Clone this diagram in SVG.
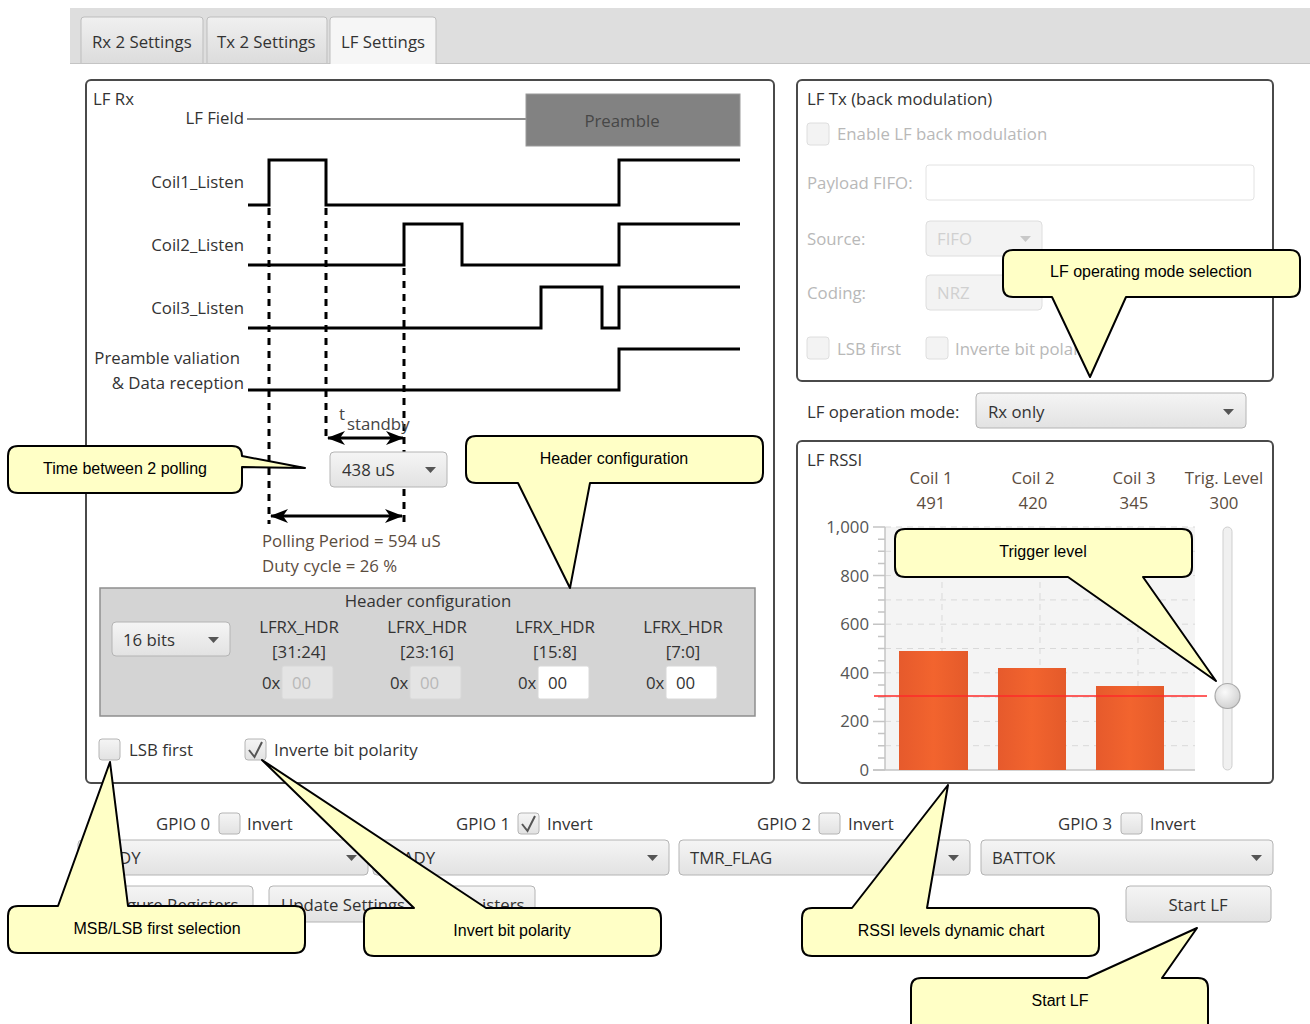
<svg xmlns="http://www.w3.org/2000/svg" width="1310" height="1024" viewBox="0 0 1310 1024">
  <defs>
    <style>
      .ui { font-family: "Open Sans", "Noto Sans", sans-serif; font-size: 16.8px; fill: #333; }
      .dis { fill: #b8b8b8; }
      .brown { fill: #5b4c3e; }
      .axis { font-family: "Open Sans", "Noto Sans", sans-serif; font-size: 16.8px; fill: #555; }
      .co { font-family: "Liberation Sans", Arial, sans-serif; font-size: 16px; fill: #000; }
      .callout { fill: #ffffc6; stroke: #000; stroke-width: 2; stroke-linejoin: round; }
      .panel { fill: #fff; stroke: #4a4a4a; stroke-width: 2; }
      .wave { fill: none; stroke: #000; stroke-width: 3; stroke-linejoin: miter; }
      .dash { fill: none; stroke: #000; stroke-width: 3; stroke-dasharray: 7 6; }
      .dd { fill: url(#btn); stroke: #b4b4b4; stroke-width: 1; }
      .dd-dis { fill: #f3f3f3; stroke: #dedede; stroke-width: 1; }
      .chk { fill: url(#btn); stroke: #b4b4b4; stroke-width: 1; }
      .chk-dis { fill: #f3f3f3; stroke: #dedede; stroke-width: 1; }
      .tri { fill: #555; }
      .tri-dis { fill: #c8c8c8; }
      .field { fill: #fff; stroke: #d8d8d8; stroke-width: 1; }
      .field-dis { fill: #e4e4e4; stroke: #d8d8d8; stroke-width: 1; }
      .grid { stroke: #d9d9d9; stroke-width: 1; stroke-dasharray: 6 5; fill: none; }
      .tick { stroke: #c4c4c4; stroke-width: 1.5; }
    </style>
    <linearGradient id="btn" x1="0" y1="0" x2="0" y2="1">
      <stop offset="0" stop-color="#f5f5f5"/>
      <stop offset="1" stop-color="#e2e2e2"/>
    </linearGradient>
    <linearGradient id="tab" x1="0" y1="0" x2="0" y2="1">
      <stop offset="0" stop-color="#f0f0f0"/>
      <stop offset="1" stop-color="#dcdcdc"/>
    </linearGradient>
    <linearGradient id="bar" x1="0" y1="0" x2="1" y2="0">
      <stop offset="0" stop-color="#e65a2c"/>
      <stop offset="0.5" stop-color="#f2642e"/>
      <stop offset="1" stop-color="#e45a2a"/>
    </linearGradient>
    <radialGradient id="thumb" cx="0.4" cy="0.35" r="0.7">
      <stop offset="0" stop-color="#fafafa"/>
      <stop offset="1" stop-color="#cfcfcf"/>
    </radialGradient>
    <marker id="ah" viewBox="0 0 18 14" refX="17" refY="7" markerWidth="18" markerHeight="14" markerUnits="userSpaceOnUse" orient="auto-start-reverse">
      <path d="M0,0 L18,7 L0,14 L5,7 Z" fill="#000"/>
    </marker>
  </defs>

  <rect width="1310" height="1024" fill="#fff"/>

  <!-- tab strip -->
  <g id="tabs">
    <rect x="70" y="8" width="1240" height="56" fill="#dedede"/>
    <line x1="70" y1="63.5" x2="1310" y2="63.5" stroke="#c4c4c4"/>
    <path d="M81,63 V20 Q81,17 84,17 H200 Q203,17 203,20 V63" fill="url(#tab)" stroke="#bdbdbd"/>
    <path d="M207,63 V20 Q207,17 210,17 H324 Q327,17 327,20 V63" fill="url(#tab)" stroke="#bdbdbd"/>
    <path d="M330,64 V20 Q330,17 333,17 H433 Q436,17 436,20 V64" fill="#f6f6f6" stroke="#bdbdbd"/>
    <text class="ui" x="92" y="48">Rx 2 Settings</text>
    <text class="ui" x="217" y="48">Tx 2 Settings</text>
    <text class="ui" x="341" y="48">LF Settings</text>
  </g>

  <!-- LF Rx panel -->
  <g id="lf-rx">
    <rect class="panel" x="86" y="80" width="688" height="703" rx="5"/>
    <text class="ui" x="93" y="105">LF Rx</text>

    <text class="ui" x="244" y="124" text-anchor="end">LF Field</text>
    <line x1="247" y1="119" x2="527" y2="119" stroke="#8c8c8c" stroke-width="2"/>
    <rect x="526" y="94" width="214" height="52" fill="#828282" stroke="#9a9a9a"/>
    <text class="ui" x="622" y="127" text-anchor="middle" style="fill:#474747">Preamble</text>

    <text class="ui" x="244" y="188" text-anchor="end">Coil1_Listen</text>
    <text class="ui" x="244" y="251" text-anchor="end">Coil2_Listen</text>
    <text class="ui" x="244" y="314" text-anchor="end">Coil3_Listen</text>
    <text class="ui" x="240" y="364" text-anchor="end">Preamble valiation</text>
    <text class="ui" x="244" y="389" text-anchor="end">&amp; Data reception</text>

    <path class="wave" d="M248,205 H269 V160 H326 V205 H619 V160 H740"/>
    <path class="wave" d="M248,265 H404 V224 H462 V265 H619 V224 H740"/>
    <path class="wave" d="M248,328 H541 V287 H602 V328 H619 V287 H740"/>
    <path class="wave" d="M248,390 H619 V349 H740"/>

    <line class="dash" x1="269" y1="208" x2="269" y2="524"/>
    <line class="dash" x1="326" y1="208" x2="326" y2="442"/>
    <line class="dash" x1="404" y1="268" x2="404" y2="524"/>

    <text class="ui" x="339" y="420" style="fill:#444">t</text>
    <text class="ui" x="347" y="430" style="fill:#444">standby</text>
    <line x1="328" y1="438" x2="403" y2="438" stroke="#000" stroke-width="3" marker-start="url(#ah)" marker-end="url(#ah)"/>

    <rect class="dd" x="330" y="452" width="117" height="35" rx="4"/>
    <text class="ui" x="342" y="476">438 uS</text>
    <path class="tri" d="M425,467 H436 L430.5,473 Z"/>

    <line x1="271" y1="516" x2="402" y2="516" stroke="#000" stroke-width="3" marker-start="url(#ah)" marker-end="url(#ah)"/>
    <text class="ui brown" x="262" y="547">Polling Period = 594 uS</text>
    <text class="ui brown" x="262" y="572">Duty cycle = 26 %</text>

    <!-- header configuration block -->
    <rect x="100" y="588" width="655" height="128" fill="#d4d4d4" stroke="#8e8e8e" stroke-width="1.5"/>
    <text class="ui" x="428" y="607" text-anchor="middle">Header configuration</text>
    <rect class="dd" x="112" y="622" width="118" height="34" rx="4"/>
    <text class="ui" x="123" y="646">16 bits</text>
    <path class="tri" d="M208,637 H219 L213.5,643 Z"/>

    <text class="ui" x="299" y="633" text-anchor="middle">LFRX_HDR</text>
    <text class="ui" x="427" y="633" text-anchor="middle">LFRX_HDR</text>
    <text class="ui" x="555" y="633" text-anchor="middle">LFRX_HDR</text>
    <text class="ui" x="683" y="633" text-anchor="middle">LFRX_HDR</text>
    <text class="ui" x="299" y="658" text-anchor="middle">[31:24]</text>
    <text class="ui" x="427" y="658" text-anchor="middle">[23:16]</text>
    <text class="ui" x="555" y="658" text-anchor="middle">[15:8]</text>
    <text class="ui" x="683" y="658" text-anchor="middle">[7:0]</text>

    <text class="ui" x="262" y="689">0x</text>
    <rect class="field-dis" x="282" y="666" width="51" height="33" rx="2"/>
    <text class="ui dis" x="292" y="689">00</text>
    <text class="ui" x="390" y="689">0x</text>
    <rect class="field-dis" x="410" y="666" width="51" height="33" rx="2"/>
    <text class="ui dis" x="420" y="689">00</text>
    <text class="ui" x="518" y="689">0x</text>
    <rect class="field" x="538" y="666" width="51" height="33" rx="2"/>
    <text class="ui" x="548" y="689">00</text>
    <text class="ui" x="646" y="689">0x</text>
    <rect class="field" x="666" y="666" width="51" height="33" rx="2"/>
    <text class="ui" x="676" y="689">00</text>

    <rect class="chk" x="99" y="739" width="21" height="21" rx="3"/>
    <text class="ui" x="129" y="756">LSB first</text>
    <rect class="chk" x="245" y="739" width="21" height="21" rx="3"/>
    <path d="M249,750 L254.5,757 L262,742" fill="none" stroke="#555" stroke-width="2"/>
    <text class="ui" x="274" y="756">Inverte bit polarity</text>
  </g>

  <!-- LF Tx panel -->
  <g id="lf-tx">
    <rect class="panel" x="797" y="80" width="476" height="301" rx="5"/>
    <text class="ui" x="807" y="105">LF Tx (back modulation)</text>
    <rect class="chk-dis" x="807" y="123" width="22" height="22" rx="3"/>
    <text class="ui dis" x="837" y="140">Enable LF back modulation</text>
    <text class="ui dis" x="807" y="189">Payload FIFO:</text>
    <rect class="field" x="926" y="165" width="328" height="35" rx="3" style="stroke:#e2e2e2"/>
    <text class="ui dis" x="807" y="245">Source:</text>
    <rect class="dd-dis" x="926" y="221" width="116" height="35" rx="4"/>
    <text class="ui dis" x="937" y="245" style="fill:#d0d0d0">FIFO</text>
    <path class="tri-dis" d="M1020,236 H1031 L1025.5,242 Z"/>
    <text class="ui dis" x="807" y="299">Coding:</text>
    <rect class="dd-dis" x="926" y="275" width="116" height="35" rx="4"/>
    <text class="ui dis" x="937" y="299" style="fill:#d0d0d0">NRZ</text>
    <rect class="chk-dis" x="807" y="337" width="22" height="22" rx="3"/>
    <text class="ui dis" x="837" y="355">LSB first</text>
    <rect class="chk-dis" x="926" y="337" width="22" height="22" rx="3"/>
    <text class="ui dis" x="955" y="355">Inverte bit polarity</text>
  </g>

  <!-- operation mode -->
  <g id="op-mode">
    <text class="ui" x="807" y="418">LF operation mode:</text>
    <rect class="dd" x="976" y="393" width="270" height="35" rx="4"/>
    <text class="ui" x="988" y="418">Rx only</text>
    <path class="tri" d="M1223,409 H1234 L1228.5,415 Z"/>
  </g>

  <!-- LF RSSI panel -->
  <g id="lf-rssi">
    <rect class="panel" x="797" y="441" width="476" height="342" rx="5"/>
    <text class="ui" x="807" y="466">LF RSSI</text>
    <text class="ui brown" x="931" y="484" text-anchor="middle">Coil 1</text>
    <text class="ui brown" x="931" y="509" text-anchor="middle">491</text>
    <text class="ui brown" x="1033" y="484" text-anchor="middle">Coil 2</text>
    <text class="ui brown" x="1033" y="509" text-anchor="middle">420</text>
    <text class="ui brown" x="1134" y="484" text-anchor="middle">Coil 3</text>
    <text class="ui brown" x="1134" y="509" text-anchor="middle">345</text>
    <text class="ui brown" x="1224" y="484" text-anchor="middle">Trig. Level</text>
    <text class="ui brown" x="1224" y="509" text-anchor="middle">300</text>

    <!-- plot area -->
    <rect x="885" y="527" width="310" height="243" fill="#f4f4f4"/>
    <path class="grid" d="M885,551.3 H1195 M885,575.6 H1195 M885,599.9 H1195 M885,624.2 H1195 M885,648.5 H1195 M885,672.8 H1195 M885,697.1 H1195 M885,721.4 H1195 M885,745.7 H1195 M885,527 H1195"/>
    <path class="grid" d="M942,527 V770 M1040,527 V770 M1138,527 V770"/>

    <path class="tick" d="M873,527 H885 M873,575.6 H885 M873,624.2 H885 M873,672.8 H885 M873,721.4 H885 M873,770 H885"/>
    <path class="tick" d="M878,539.2 H885 M878,551.3 H885 M878,563.5 H885 M878,587.8 H885 M878,599.9 H885 M878,612.1 H885 M878,636.4 H885 M878,648.5 H885 M878,660.7 H885 M878,685 H885 M878,697.1 H885 M878,709.3 H885 M878,733.6 H885 M878,745.7 H885 M878,757.9 H885"/>
    <line x1="885" y1="527" x2="885" y2="770" stroke="#c4c4c4" stroke-width="1.5"/>
    <line x1="873" y1="770" x2="1195" y2="770" stroke="#c4c4c4" stroke-width="1.5"/>

    <text class="axis" x="869" y="533" text-anchor="end">1,000</text>
    <text class="axis" x="869" y="582" text-anchor="end">800</text>
    <text class="axis" x="869" y="630" text-anchor="end">600</text>
    <text class="axis" x="869" y="679" text-anchor="end">400</text>
    <text class="axis" x="869" y="727" text-anchor="end">200</text>
    <text class="axis" x="869" y="776" text-anchor="end">0</text>

    <rect x="899" y="651" width="69" height="119" fill="url(#bar)"/>
    <rect x="998" y="668" width="68" height="102" fill="url(#bar)"/>
    <rect x="1096" y="686" width="68" height="84" fill="url(#bar)"/>

    <line x1="874" y1="696" x2="1207" y2="696" stroke="#ff2a2a" stroke-width="2" stroke-opacity="0.75"/>

    <rect x="1223" y="527" width="9" height="243" rx="4.5" fill="#f0f0f0" stroke="#cfcfcf"/>
    <circle cx="1227.5" cy="696" r="12.5" fill="url(#thumb)" stroke="#a9a9a9" stroke-width="1.2"/>
  </g>

  <!-- GPIO row -->
  <g id="gpio">
    <text class="ui" x="210" y="830" text-anchor="end">GPIO 0</text>
    <rect class="chk" x="219" y="813" width="21" height="21" rx="3"/>
    <text class="ui" x="247" y="830">Invert</text>

    <text class="ui" x="510" y="830" text-anchor="end">GPIO 1</text>
    <rect class="chk" x="518" y="813" width="21" height="21" rx="3"/>
    <path d="M522,824 L527.5,831 L535,816" fill="none" stroke="#555" stroke-width="2"/>
    <text class="ui" x="547" y="830">Invert</text>

    <text class="ui" x="811" y="830" text-anchor="end">GPIO 2</text>
    <rect class="chk" x="819" y="813" width="21" height="21" rx="3"/>
    <text class="ui" x="848" y="830">Invert</text>

    <text class="ui" x="1112" y="830" text-anchor="end">GPIO 3</text>
    <rect class="chk" x="1121" y="813" width="21" height="21" rx="3"/>
    <text class="ui" x="1150" y="830">Invert</text>

    <rect class="dd" x="78" y="840" width="290" height="35" rx="4"/>
    <text class="ui" x="119" y="864">DY</text>
    <path class="tri" d="M346,855 H357 L351.5,861 Z"/>

    <rect class="dd" x="373" y="840" width="296" height="35" rx="4"/>
    <text class="ui" x="403" y="864">ADY</text>
    <path class="tri" d="M647,855 H658 L652.5,861 Z"/>

    <rect class="dd" x="679" y="840" width="291" height="35" rx="4"/>
    <text class="ui" x="690" y="864">TMR_FLAG</text>
    <path class="tri" d="M948,855 H959 L953.5,861 Z"/>

    <rect class="dd" x="981" y="840" width="292" height="35" rx="4"/>
    <text class="ui" x="992" y="864">BATTOK</text>
    <path class="tri" d="M1251,855 H1262 L1256.5,861 Z"/>
  </g>

  <!-- buttons -->
  <g id="buttons">
    <rect class="dd" x="100" y="886" width="153" height="36" rx="4"/>
    <text class="ui" x="127" y="911">gure Registers</text>
    <rect class="dd" x="269" y="886" width="266" height="36" rx="4"/>
    <text class="ui" x="281" y="911">Update Settings</text>
    <text class="ui" x="482" y="911">isters</text>
    <rect class="dd" x="1126" y="886" width="145" height="36" rx="4"/>
    <text class="ui" x="1198" y="911" text-anchor="middle">Start LF</text>
  </g>

  <!-- callouts -->
  <g id="callout-polling">
    <path class="callout" d="M18,446 H232 Q242,446 242,456 L305,468 L242,467 V483 Q242,493 232,493 H18 Q8,493 8,483 V456 Q8,446 18,446 Z"/>
    <text class="co" x="125" y="474" text-anchor="middle">Time between 2 polling</text>
  </g>
  <g id="callout-header">
    <path class="callout" d="M476,436 H753 Q763,436 763,446 V473 Q763,483 753,483 H590 L570,588 L518,483 H476 Q466,483 466,473 V446 Q466,436 476,436 Z"/>
    <text class="co" x="614" y="464" text-anchor="middle">Header configuration</text>
  </g>
  <g id="callout-mode">
    <path class="callout" d="M1013,250 H1290 Q1300,250 1300,260 V287 Q1300,297 1290,297 H1126 L1090,377 L1052,297 H1013 Q1003,297 1003,287 V260 Q1003,250 1013,250 Z"/>
    <text class="co" x="1151" y="277" text-anchor="middle">LF operating mode selection</text>
  </g>
  <g id="callout-trigger">
    <path class="callout" d="M905,529 H1182 Q1192,529 1192,539 V567 Q1192,577 1182,577 H1143 L1216,681 L1068,577 H905 Q895,577 895,567 V539 Q895,529 905,529 Z"/>
    <text class="co" x="1043" y="557" text-anchor="middle">Trigger level</text>
  </g>
  <g id="callout-msb">
    <path class="callout" d="M18,906 H58 L110,762 L128,906 H295 Q305,906 305,916 V943 Q305,953 295,953 H18 Q8,953 8,943 V916 Q8,906 18,906 Z"/>
    <text class="co" x="157" y="934" text-anchor="middle">MSB/LSB first selection</text>
  </g>
  <g id="callout-invert">
    <path class="callout" d="M374,908 H414 L262,760 L486,908 H651 Q661,908 661,918 V946 Q661,956 651,956 H374 Q364,956 364,946 V918 Q364,908 374,908 Z"/>
    <text class="co" x="512" y="936" text-anchor="middle">Invert bit polarity</text>
  </g>
  <g id="callout-rssi">
    <path class="callout" d="M812,908 H852 L948,785 L927,908 H1089 Q1099,908 1099,918 V946 Q1099,956 1089,956 H812 Q802,956 802,946 V918 Q802,908 812,908 Z"/>
    <text class="co" x="951" y="936" text-anchor="middle">RSSI levels dynamic chart</text>
  </g>
  <g id="callout-start">
    <path class="callout" d="M921,978 H1087 L1197,928 L1162,978 H1198 Q1208,978 1208,988 V1032 H911 V988 Q911,978 921,978 Z"/>
    <text class="co" x="1060" y="1006" text-anchor="middle">Start LF</text>
  </g>
</svg>
